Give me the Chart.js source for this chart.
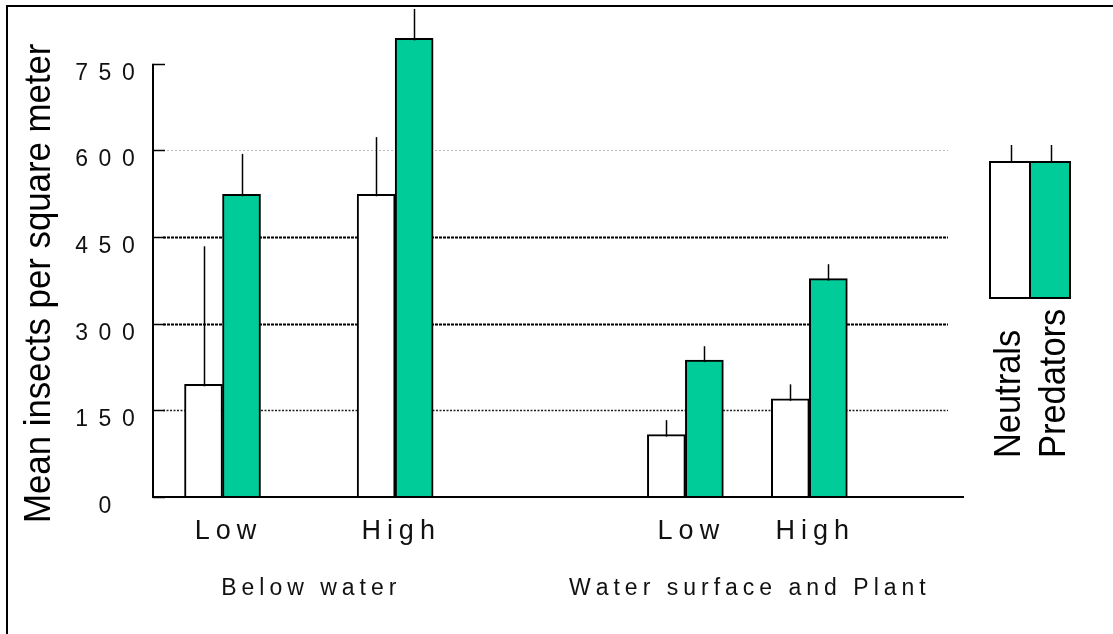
<!DOCTYPE html>
<html lang="en">
<head>
    <meta charset="UTF-8">
    <title>Mean insects per square meter</title>
    <script src="https://cdn.jsdelivr.net/npm/chart.js"></script>
    <style>
        body {
            margin: 0;
            background-color: #fff;
        }
        #insectChart {
            display: block;
        }
    </style>
</head>
<body>
    <canvas id="insectChart" width="1113" height="634"></canvas>
    <script>
        // data
        const habitats = ['Below water', 'Water surface and Plant'];
        const levels = ['Low', 'High', 'Low', 'High'];
        const levelPos = [1.2, 4.18, 9.19, 11.33];   // position of each level on the x axis
        const neutrals = [195, 524, 108, 170];
        const neutralsErr = [239, 99, 25, 25];
        const predators = [524, 794, 237, 378];
        const predatorsErr = [70, 51, 24, 25];
        const yTicks = [0, 150, 300, 450, 600, 750];

        const FONT = '"Liberation Sans", Arial, sans-serif';
        const GREEN = '#00cc99';

        const gridStyle = {
            150: { color: '#222', width: 1.5, dash: [2, 1.5] },
            300: { color: '#000', width: 2, dash: [3, 1] },
            450: { color: '#000', width: 2, dash: [3, 1] },
            600: { color: '#bbb', width: 1, dash: [2, 2] }
        };

        // draw text one char at a time so we get the wide letter spacing of the original
        function spacedText(ctx, text, x, y, spacing, align) {
            let w = 0;
            for (const ch of text) w += ctx.measureText(ch).width + spacing;
            w -= spacing;
            let cx = align === 'center' ? x - w / 2 : (align === 'right' ? x - w : x);
            ctx.textAlign = 'left';
            for (const ch of text) {
                ctx.fillText(ch, cx, y);
                cx += ctx.measureText(ch).width + spacing;
            }
        }

        function rotatedText(ctx, text, x, y, size, squeeze) {
            ctx.save();
            ctx.translate(x, y);
            ctx.rotate(-Math.PI / 2);
            ctx.scale(squeeze, 1);
            ctx.font = size + 'px ' + FONT;
            ctx.textAlign = 'left';
            ctx.textBaseline = 'alphabetic';
            ctx.fillText(text, 0, 0);
            ctx.restore();
        }

        const figurePlugin = {
            id: 'figure',
            beforeDatasetsDraw(chart) {
                const { ctx, chartArea, scales: { y } } = chart;
                ctx.save();
                for (const v of yTicks) {
                    const s = gridStyle[v];
                    if (!s) continue;
                    const py = Math.round(y.getPixelForValue(v)) + 0.5;
                    ctx.strokeStyle = s.color;
                    ctx.lineWidth = s.width;
                    ctx.setLineDash(s.dash);
                    ctx.beginPath();
                    ctx.moveTo(chartArea.left + 10, py);
                    ctx.lineTo(chartArea.right - 16, py);
                    ctx.stroke();
                }
                ctx.restore();
            },
            afterDatasetsDraw(chart) {
                const { ctx, scales: { y } } = chart;
                ctx.save();
                ctx.strokeStyle = '#000';
                ctx.lineWidth = 1.5;
                chart.data.datasets.forEach((ds, di) => {
                    chart.getDatasetMeta(di).data.forEach((bar, i) => {
                        const top = y.getPixelForValue(ds.data[i].y + ds.errors[i]);
                        const x = Math.round(bar.x) + 0.5;
                        ctx.beginPath();
                        ctx.moveTo(x, bar.y + 2);
                        ctx.lineTo(x, top);
                        ctx.stroke();
                    });
                });
                ctx.restore();
            },
            afterDraw(chart) {
                const { ctx, chartArea, scales: { x, y } } = chart;
                const y0 = y.getPixelForValue(0);
                ctx.save();

                // outer frame (left and top only)
                ctx.strokeStyle = '#000';
                ctx.lineWidth = 2;
                ctx.beginPath();
                ctx.moveTo(7, chart.height);
                ctx.lineTo(7, 6);
                ctx.lineTo(chart.width, 6);
                ctx.stroke();

                // axes
                ctx.beginPath();
                ctx.moveTo(chartArea.left, y.getPixelForValue(yTicks[yTicks.length - 1]));
                ctx.lineTo(chartArea.left, y0);
                ctx.lineTo(chartArea.right, y0);
                ctx.stroke();

                // inward tick marks
                ctx.lineWidth = 1.5;
                for (const v of yTicks) {
                    const py = Math.round(y.getPixelForValue(v)) + 0.5;
                    ctx.beginPath();
                    ctx.moveTo(chartArea.left, py);
                    ctx.lineTo(chartArea.left + 12, py);
                    ctx.stroke();
                }

                ctx.fillStyle = '#111';
                ctx.textBaseline = 'alphabetic';

                // y tick labels
                ctx.font = '23px ' + FONT;
                for (const v of yTicks) {
                    spacedText(ctx, String(v), 105, y.getPixelForValue(v) + 16, 10.5, 'center');
                }

                // x tick labels
                ctx.font = '27px ' + FONT;
                levels.forEach((lab, i) => {
                    spacedText(ctx, lab, x.getPixelForValue(levelPos[i]) + 3, 539, 6, 'center');
                });

                // habitat group labels, centred under each pair of levels
                ctx.font = '23px ' + FONT;
                habitats.forEach((lab, g) => {
                    const cx = (x.getPixelForValue(levelPos[g * 2]) + x.getPixelForValue(levelPos[g * 2 + 1])) / 2;
                    spacedText(ctx, lab, cx, 595, 5, 'center');
                });

                // y axis title
                ctx.fillStyle = '#000';
                rotatedText(ctx, 'Mean insects per square meter', 50, 523, 37, 0.94);

                // legend: two bars with their error ticks, rotated labels underneath
                const lgTop = 162, lgBottom = 298;
                const lgBars = [
                    { left: 990, color: '#fff', label: chart.data.datasets[0].label, base: 1020 },
                    { left: 1030, color: GREEN, label: chart.data.datasets[1].label, base: 1065 }
                ];
                lgBars.forEach(b => {
                    ctx.fillStyle = b.color;
                    ctx.fillRect(b.left, lgTop, 40, lgBottom - lgTop);
                    ctx.strokeStyle = '#000';
                    ctx.lineWidth = 2;
                    ctx.strokeRect(b.left, lgTop, 40, lgBottom - lgTop);
                    ctx.lineWidth = 1.5;
                    ctx.beginPath();
                    ctx.moveTo(b.left + 21.5, lgTop);
                    ctx.lineTo(b.left + 21.5, lgTop - 17);
                    ctx.stroke();
                    ctx.fillStyle = '#000';
                    rotatedText(ctx, b.label, b.base, 458, 37, 0.93);
                });

                ctx.restore();
            }
        };

        const ctx = document.getElementById('insectChart').getContext('2d');
        new Chart(ctx, {
            type: 'bar',
            data: {
                datasets: [
                    {
                        label: 'Neutrals',
                        data: levelPos.map((p, i) => ({ x: p, y: neutrals[i] })),
                        errors: neutralsErr,
                        backgroundColor: '#fff',
                        borderColor: '#000',
                        borderWidth: 2,
                        barThickness: 38
                    },
                    {
                        label: 'Predators',
                        data: levelPos.map((p, i) => ({ x: p, y: predators[i] })),
                        errors: predatorsErr,
                        backgroundColor: GREEN,
                        borderColor: '#000',
                        borderWidth: 2,
                        barThickness: 38
                    }
                ]
            },
            options: {
                responsive: false,
                animation: false,
                devicePixelRatio: 1,
                layout: {
                    padding: { left: 153, right: 149, top: 6, bottom: 137 }
                },
                scales: {
                    x: { type: 'linear', min: 0, max: 14, offset: false, display: false },
                    y: { min: 0, max: 850, display: false }
                },
                plugins: {
                    legend: { display: false },
                    tooltip: { enabled: false }
                }
            },
            plugins: [figurePlugin]
        });
    </script>
</body>
</html>
